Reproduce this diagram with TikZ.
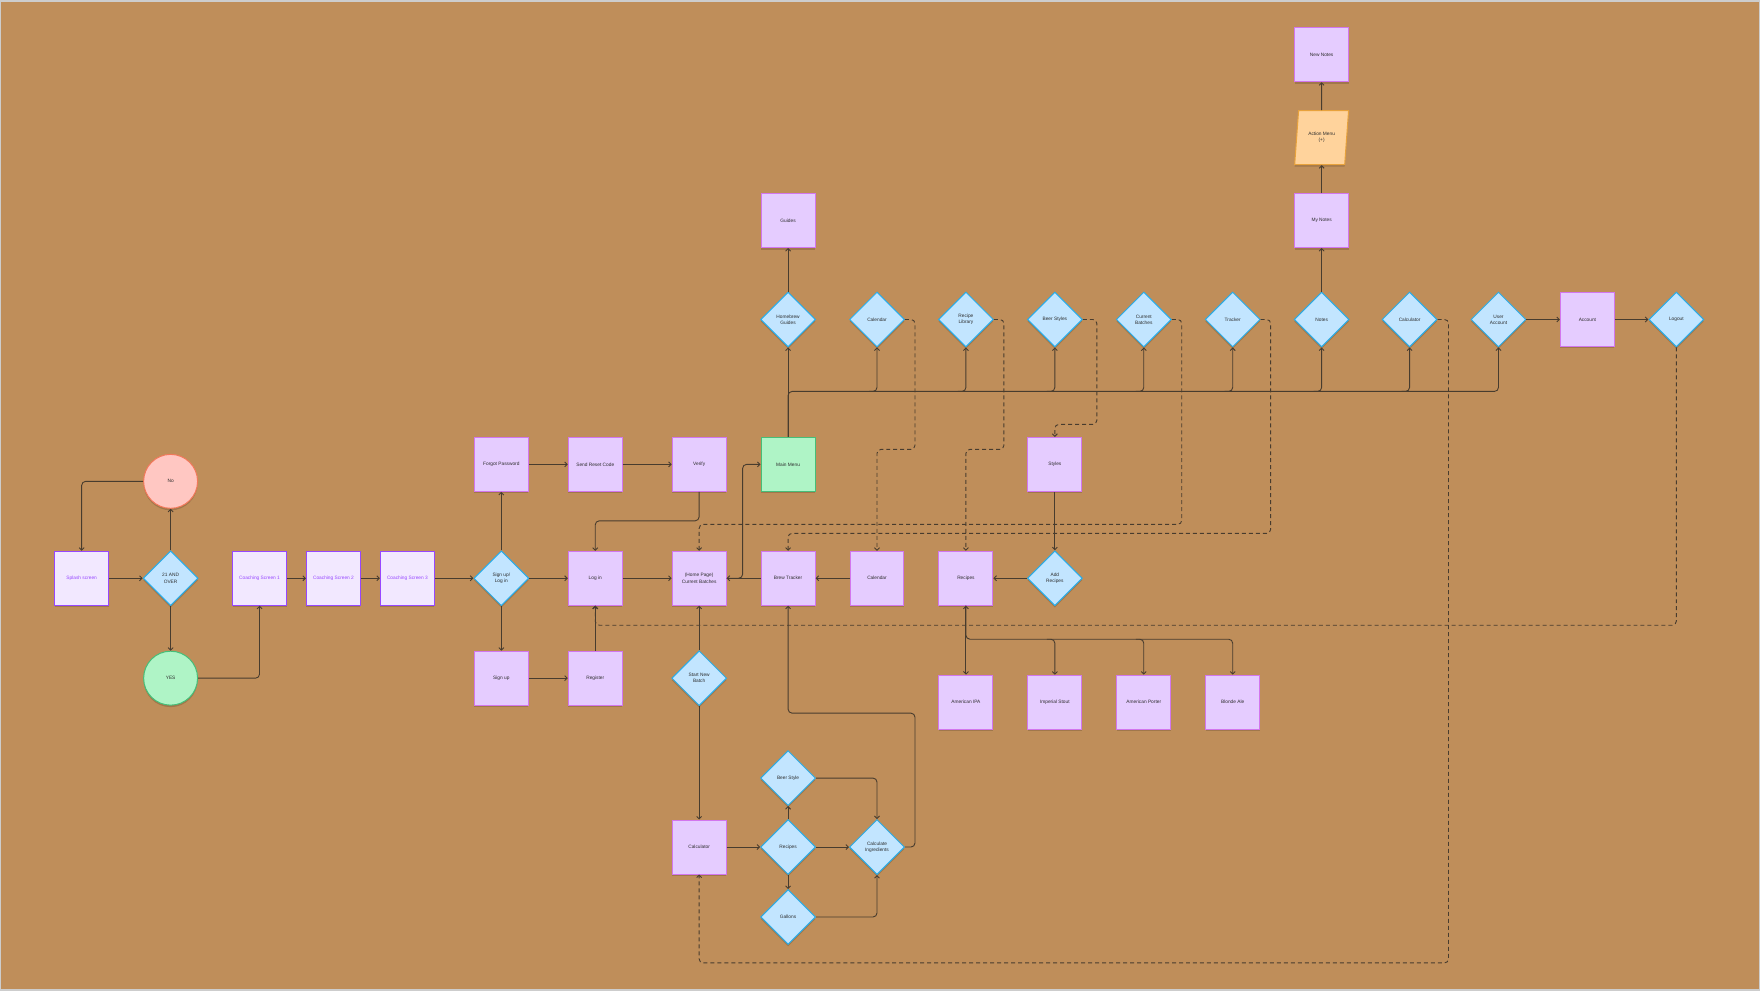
\documentclass[tikz,border=0pt]{standalone}
\usepackage{fontspec}
\setmainfont{Liberation Sans}
\usetikzlibrary{shapes.geometric,arrows.meta,shadows}
\definecolor{bg}{RGB}{191,142,90}
\definecolor{frame}{RGB}{205,205,205}
\definecolor{boxfill}{RGB}{229,204,255}
\definecolor{boxline}{RGB}{210,118,238}
\definecolor{palefill}{RGB}{242,232,255}
\definecolor{paleline}{RGB}{151,71,255}
\definecolor{diafill}{RGB}{194,229,255}
\definecolor{dialine}{RGB}{40,172,232}
\definecolor{nofill}{RGB}{255,199,194}
\definecolor{noline}{RGB}{242,120,90}
\definecolor{yesfill}{RGB}{175,244,198}
\definecolor{yesline}{RGB}{70,190,120}
\definecolor{actfill}{RGB}{255,211,156}
\definecolor{actline}{RGB}{232,162,60}
\definecolor{linec}{RGB}{72,60,46}
\definecolor{ink}{RGB}{45,45,45}
\begin{document}
\begin{tikzpicture}[x=1pt,y=-1pt,
  font=\fontsize{4.8}{6.2}\selectfont, text=ink,
  soft/.style={drop shadow={shadow xshift=0pt,shadow yshift=-2pt,opacity=0.16,fill=black}},
  screen/.style={draw=boxline,fill=boxfill,line width=1pt,minimum size=54pt,inner sep=1pt,align=center,soft},
  pale/.style={screen,draw=paleline,fill=palefill,text=paleline},
  menu/.style={screen,draw=yesline,fill=yesfill},
  choice/.style={diamond,draw=dialine,fill=diafill,line width=1pt,minimum size=55pt,inner sep=0pt,align=center,soft},
  nobub/.style={circle,draw=noline,fill=nofill,line width=1pt,minimum size=54pt,inner sep=0pt,soft},
  yesbub/.style={circle,draw=yesline,fill=yesfill,line width=1pt,minimum size=54pt,inner sep=0pt,soft},
  popup/.style={trapezium,trapezium left angle=78,trapezium right angle=102,trapezium stretches=true,
    draw=actline,fill=actfill,line width=1pt,minimum height=54pt,minimum width=54pt,inner sep=0pt,align=center,soft},
  link/.style={draw=linec,line width=0.9pt,rounded corners=4pt},
  arr/.style={link,-{Straight Barb[length=2.5pt,width=5pt]}},
  darr/.style={arr,dash pattern=on 4pt off 3pt}]
  % canvas
  \draw[frame,fill=bg,line width=1.5pt] (0,0) rectangle (1760,990);

  % entry and sign in
  \node[pale] (splash) at (81,578) {Splash screen};
  \node[choice] (age) at (170,578) {21 AND\\OVER};
  \node[nobub] (no) at (170,481) {No};
  \node[yesbub] (yes) at (170,678) {YES};
  \node[pale] (coach1) at (259,578) {Coaching Screen 1};
  \node[pale] (coach2) at (333,578) {Coaching Screen 2};
  \node[pale] (coach3) at (407,578) {Coaching Screen 3};
  \node[choice] (signlog) at (501,578) {Sign up/\\Log in};
  \node[screen] (forgot) at (501,464) {Forgot Password};
  \node[screen] (reset) at (595,464) {Send Reset Code};
  \node[screen] (verify) at (699,464) {Verify};
  \node[menu] (mainmenu) at (788,464) {Main Menu};
  \node[screen] (signup) at (501,678) {Sign up};
  \node[screen] (register) at (595,678) {Register};
  \node[screen] (login) at (595,578) {Log in};
  \node[screen] (home) at (699,578) {(Home Page)\\Current Batches};
  \node[choice] (newbatch) at (699,678) {Start New\\Batch};
  \node[screen] (brew) at (788,578) {Brew Tracker};
  \node[screen] (calendar) at (877,578) {Calendar};
  \node[screen] (recipes) at (966,578) {Recipes};
  \node[choice] (addrec) at (1055,578) {Add\\Recipes};
  \node[screen] (styles) at (1055,464) {Styles};
  \node[screen] (ipa) at (966,702) {American IPA};
  \node[screen] (stout) at (1055,702) {Imperial Stout};
  \node[screen] (porter) at (1144,702) {American Porter};
  \node[screen] (blonde) at (1233,702) {Blonde Ale};

  % main menu choices
  \node[choice] (guidesd) at (788,319) {Homebrew\\Guides};
  \node[choice] (calend) at (877,319) {Calendar};
  \node[choice] (library) at (966,319) {Recipe\\Library};
  \node[choice] (beerstyles) at (1055,319) {Beer Styles};
  \node[choice] (batches) at (1144,319) {Current\\Batches};
  \node[choice] (tracker) at (1233,319) {Tracker};
  \node[choice] (notes) at (1322,319) {Notes};
  \node[choice] (calcd) at (1410,319) {Calculator};
  \node[choice] (user) at (1499,319) {User\\Account};
  \node[screen] (account) at (1588,319) {Account};
  \node[choice] (logout) at (1677,319) {Logout};
  \node[screen] (guides) at (788,220) {Guides};
  \node[screen] (mynotes) at (1322,220) {My Notes};
  \node[popup] (action) at (1322,137) {Action Menu\\(+)};
  \node[screen] (newnotes) at (1322,54) {New Notes};

  % calculator
  \node[screen] (calc) at (699,847) {Calculator};
  \node[choice] (crecipes) at (788,847) {Recipes};
  \node[choice] (beerstyle) at (788,778) {Beer Style};
  \node[choice] (gallons) at (788,917) {Gallons};
  \node[choice] (ingred) at (877,847) {Calculate\\Ingredients};

  \coordinate (bus) at (788,391);
  \coordinate (fork) at (966,639);

  % solid flow
  \draw[arr] (splash) -- (age);
  \draw[arr] (age) -- (no);
  \draw[arr] (age) -- (yes);
  \draw[arr] (no.west) -| (splash.north);
  \draw[arr] (yes.east) -| (coach1.south);
  \draw[arr] (coach1) -- (coach2);
  \draw[arr] (coach2) -- (coach3);
  \draw[arr] (coach3) -- (signlog);
  \draw[arr] (signlog) -- (forgot);
  \draw[arr] (signlog) -- (signup);
  \draw[arr] (signlog) -- (login);
  \draw[arr] (forgot) -- (reset);
  \draw[arr] (reset) -- (verify);
  \draw[arr] (verify.south) -- ++(0,29) -| (login.north);
  \draw[arr] (signup) -- (register);
  \draw[arr] (register) -- (login);
  \draw[arr] (login) -- (home);
  \draw[arr] (newbatch) -- (home);
  \draw[arr] (brew) -- (home);
  \draw[arr] (calendar) -- (brew);
  \draw[arr] (home.east) -- ++(16,0) |- (mainmenu.west);
  \draw[arr] (mainmenu) -- (guidesd);
  \draw[arr] (guidesd) -- (guides);
  \draw[arr] (mainmenu.north) -- (bus) -| (user.south);
  \draw[arr] (bus -| calend.south) ++(-8,0) -| (calend.south);
  \draw[arr] (bus -| library.south) ++(-8,0) -| (library.south);
  \draw[arr] (bus -| beerstyles.south) ++(-8,0) -| (beerstyles.south);
  \draw[arr] (bus -| batches.south) ++(-8,0) -| (batches.south);
  \draw[arr] (bus -| tracker.south) ++(-8,0) -| (tracker.south);
  \draw[arr] (bus -| notes.south) ++(-8,0) -| (notes.south);
  \draw[arr] (bus -| calcd.south) ++(-8,0) -| (calcd.south);
  \draw[arr] (notes) -- (mynotes);
  \draw[arr] (mynotes) -- (action);
  \draw[arr] (action) -- (newnotes);
  \draw[arr] (user) -- (account);
  \draw[arr] (account) -- (logout);
  \draw[arr] (styles) -- (addrec);
  \draw[arr] (addrec) -- (recipes);
  \draw[link,{Straight Barb[length=2.5pt,width=5pt]}-{Straight Barb[length=2.5pt,width=5pt]}] (recipes) -- (ipa);
  \draw[arr] (recipes.south) -- (fork) -| (blonde.north);
  \draw[arr] (fork -| stout.north) ++(-8,0) -| (stout.north);
  \draw[arr] (fork -| porter.north) ++(-8,0) -| (porter.north);
  \draw[arr] (newbatch) -- (calc);
  \draw[arr] (calc) -- (crecipes);
  \draw[arr] (crecipes) -- (beerstyle);
  \draw[arr] (crecipes) -- (gallons);
  \draw[arr] (crecipes) -- (ingred);
  \draw[arr] (beerstyle.east) -| (ingred.north);
  \draw[arr] (gallons.east) -| (ingred.south);
  \draw[arr] (ingred.east) -- ++(10,0) -- ++(0,-134) -| (brew.south);

  % dashed shortcuts
  \draw[darr] (calend.east) -- ++(10,0) -- ++(0,130) -| (calendar.north);
  \draw[darr] (library.east) -- ++(10,0) -- ++(0,130) -| (recipes.north);
  \draw[darr] (beerstyles.east) -- ++(14,0) -- ++(0,105) -| (styles.north);
  \draw[darr] (batches.east) -- ++(10,0) -- ++(0,205) -| (home.north);
  \draw[darr] (tracker.east) -- ++(10,0) -- ++(0,214) -| (brew.north);
  \draw[darr] (calcd.east) -- ++(11,0) -- ++(0,644) -| (calc.south);
  \draw[darr] (logout.south) -- ++(0,278) -| (login.south);
\end{tikzpicture}
\end{document}
